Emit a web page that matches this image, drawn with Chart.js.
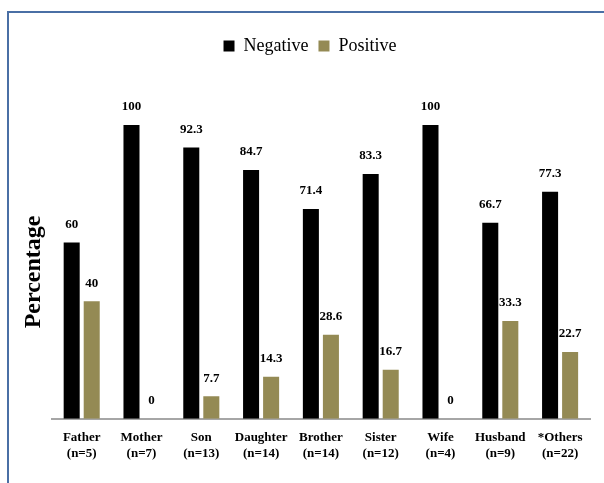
<!DOCTYPE html>
<html>
<head>
<meta charset="utf-8">
<script src="https://cdn.jsdelivr.net/npm/chart.js@4/dist/chart.umd.min.js"></script>
<style>
  html, body { margin: 0; padding: 0; background: #fff; }
  #wrap { position: relative; width: 604px; height: 483px; overflow: hidden; }
  #frame { position: absolute; left: 7px; top: 11px; width: 620px; height: 500px;
           border-top: 2px solid #4A6FA5; border-left: 2px solid #4A6FA5; pointer-events: none; }
  canvas { position: absolute; left: 0; top: 0; }
</style>
</head>
<body>
<div id="wrap">
  <canvas id="c" width="604" height="483"></canvas>
  <div id="frame"></div>
</div>
<script>
const categories = ["Father", "Mother", "Son", "Daughter", "Brother", "Sister", "Wife", "Husband", "*Others"];
const sampleSizes = ["(n=5)", "(n=7)", "(n=13)", "(n=14)", "(n=14)", "(n=12)", "(n=4)", "(n=9)", "(n=22)"];
const negativeValues = [60, 100, 92.3, 84.7, 71.4, 83.3, 100, 66.7, 77.3];
const positiveValues = [40, 0, 7.7, 14.3, 28.6, 16.7, 0, 33.3, 22.7];

const labels = categories.map((c, i) => [c, sampleSizes[i]]);

const serif = "'Liberation Serif', 'Times New Roman', serif";

const legendSpace = {
  id: 'legendSpace',
  beforeInit(chart) {
    const origFit = chart.legend.fit;
    chart.legend.fit = function () {
      origFit.bind(chart.legend)();
      this.height += 60;
    };
  },
  afterLayout(chart) {
    chart.legend.left += 7;
    chart.legend.right += 7;
  }
};

const valueLabels = {
  id: 'valueLabels',
  afterDatasetsDraw(chart) {
    const ctx = chart.ctx;
    ctx.save();
    ctx.font = "bold 13px " + serif;
    ctx.fillStyle = '#000';
    ctx.textAlign = 'center';
    ctx.textBaseline = 'middle';
    chart.data.datasets.forEach((ds, di) => {
      const meta = chart.getDatasetMeta(di);
      meta.data.forEach((bar, i) => {
        ctx.fillText(String(ds.data[i]), bar.x, bar.y - 18);
      });
    });
    ctx.restore();
  }
};

new Chart(document.getElementById('c'), {
  type: 'bar',
  data: {
    labels: labels,
    datasets: [
      { label: 'Negative', data: negativeValues, backgroundColor: '#000000',
        categoryPercentage: 0.67, barPercentage: 0.8 },
      { label: 'Positive', data: positiveValues, backgroundColor: '#948A54',
        categoryPercentage: 0.67, barPercentage: 0.8 }
    ]
  },
  options: {
    responsive: false,
    animation: false,
    devicePixelRatio: 1,
    layout: { padding: { top: 27, left: 16, right: 14, bottom: 11 } },
    plugins: {
      legend: {
        position: 'top',
        labels: {
          boxWidth: 11, boxHeight: 11, padding: 10,
          color: '#000',
          font: { family: serif, size: 18 }
        }
      },
      tooltip: { enabled: false }
    },
    scales: {
      x: {
        grid: { display: false, drawTicks: false },
        border: { display: true, color: '#A6A6A6', width: 2 },
        ticks: {
          color: '#000', padding: 11, maxRotation: 0, autoSkip: false,
          font: { family: serif, size: 13, weight: 'bold' }
        }
      },
      y: {
        min: 0, max: 100,
        grid: { display: false, drawTicks: false },
        border: { display: false },
        ticks: { display: false },
        title: {
          display: true, text: 'Percentage', color: '#000',
          padding: { top: 3, bottom: 4 },
          font: { family: serif, size: 24, weight: 'bold' }
        }
      }
    }
  },
  plugins: [legendSpace, valueLabels]
});
</script>
</body>
</html>
